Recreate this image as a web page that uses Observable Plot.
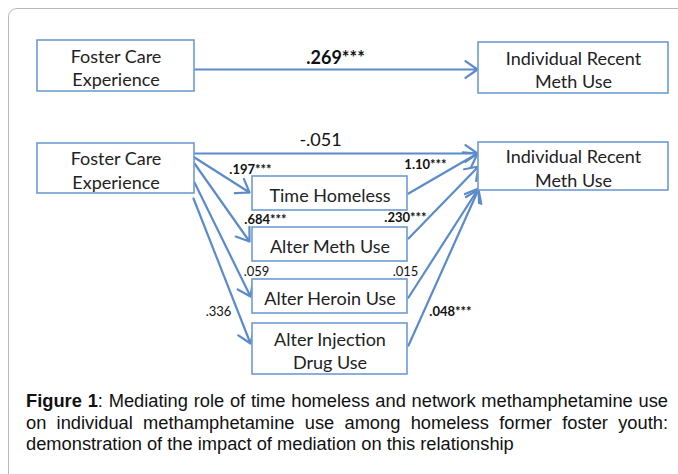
<!DOCTYPE html>
<html><head><meta charset="utf-8">
<script src="https://cdn.jsdelivr.net/npm/d3@7"></script>
<script src="https://cdn.jsdelivr.net/npm/@observablehq/plot@0.6"></script>
<style>
html,body{margin:0;padding:0;background:#fff;width:678px;height:474px;overflow:hidden;position:relative;}
#frame{position:absolute;left:8px;top:8px;width:740px;height:520px;border:1px solid #b9b9b9;border-radius:9px;box-sizing:border-box;}
#chart{position:absolute;left:0;top:0;}
#caption{position:absolute;left:26px;top:390px;width:642px;font-family:"Liberation Sans",Arial,sans-serif;font-size:18.3px;line-height:21.5px;text-align:justify;color:#111;}
</style></head><body>
<div id="frame"></div>
<div id="chart"></div>
<div id="caption"><b>Figure 1</b>: Mediating role of time homeless and network methamphetamine use on individual methamphetamine use among homeless former foster youth: demonstration of the impact of mediation on this relationship</div>
<script>
// ---- data ----
const predictor = "Foster Care\nExperience";
const outcome = "Individual Recent\nMeth Use";
const mediators = ["Time Homeless", "Alter Meth Use", "Alter Heroin Use", "Alter Injection\nDrug Use"];
const totalEffect = ".269***";
const directEffect = "-.051";
const aPaths = [".197***", ".684***", ".059", ".336"];
const bPaths = ["1.10***", ".230***", ".015", ".048***"];
const aBold = [true, true, false, false];
const bBold = [true, true, false, true];

// ---- layout (diagram coordinates) ----
const W = 678, H = 385;
const boxes = [
  {id: "predTop", label: predictor, x1: 37, x2: 194, y1: 40, y2: 91},
  {id: "outTop", label: outcome, x1: 478, x2: 668, y1: 42, y2: 93},
  {id: "pred", label: predictor, x1: 37, x2: 194, y1: 143, y2: 193},
  {id: "out", label: outcome, x1: 478, x2: 668, y1: 142, y2: 190},
  {id: "m0", label: mediators[0], x1: 252, x2: 407, y1: 176, y2: 210},
  {id: "m1", label: mediators[1], x1: 252, x2: 407, y1: 227, y2: 261},
  {id: "m2", label: mediators[2], x1: 252, x2: 407, y1: 279, y2: 313},
  {id: "m3", label: mediators[3], x1: 252, x2: 407, y1: 323, y2: 374}
];
const aGeom = [
  {x1: 194, y1: 157, x2: 249, y2: 192, lx: 250, ly: 169},
  {x1: 194, y1: 163, x2: 249, y2: 241, lx: 265, ly: 219},
  {x1: 194, y1: 182, x2: 250, y2: 296, lx: 256, ly: 271},
  {x1: 193, y1: 198, x2: 250, y2: 343, lx: 218, ly: 311}
];
const bGeom = [
  {x1: 408, y1: 193, x2: 477, y2: 153, lx: 425, ly: 164},
  {x1: 408, y1: 238, x2: 478, y2: 166, lx: 405, ly: 217},
  {x1: 408, y1: 297, x2: 478, y2: 188, lx: 405, ly: 271},
  {x1: 408, y1: 345, x2: 478, y2: 189, lx: 450, ly: 311}
];

const arrows = [
  {x1: 194, y1: 69, x2: 477, y2: 69},
  {x1: 194, y1: 153, x2: 477, y2: 153},
  ...aGeom, ...bGeom
];
const coefLabels = [
  {text: totalEffect, x: 335, y: 58, bold: true, size: 18},
  {text: directEffect, x: 320, y: 140, bold: false, size: 18},
  ...aPaths.map((t, i) => ({text: t, x: aGeom[i].lx, y: aGeom[i].ly, bold: aBold[i], size: 13})),
  ...bPaths.map((t, i) => ({text: t, x: bGeom[i].lx, y: bGeom[i].ly, bold: bBold[i], size: 13}))
];

const blue = "#5b8cc9";
const boxBlue = "#6f9bd3";
const font = "Lato, 'Open Sans', sans-serif";

const chart = Plot.plot({
  width: W, height: H,
  margin: 0,
  x: {domain: [0, W], range: [0, W], axis: null},
  y: {domain: [0, H], range: [0, H], axis: null},
  style: {fontFamily: font, background: "transparent"},
  marks: [
    Plot.arrow(arrows, {x1: "x1", y1: "y1", x2: "x2", y2: "y2", stroke: blue, strokeWidth: 2.2, headLength: 10, headAngle: 70, inset: 0}),
    Plot.rect(boxes, {x1: "x1", x2: "x2", y1: "y1", y2: "y2", fill: "white", stroke: boxBlue, strokeWidth: 1.6}),
    Plot.text(boxes, {x: d => (d.x1 + d.x2) / 2, y: d => (d.y1 + d.y2) / 2 + 1, text: "label", fontSize: 18, lineHeight: 1.3, fill: "#222", fontFamily: font}),
    Plot.text(coefLabels.filter(d => d.bold), {x: "x", y: "y", text: "text", fontSize: d => d.size, fontWeight: "bold", fill: "#111", fontFamily: font}),
    Plot.text(coefLabels.filter(d => !d.bold), {x: "x", y: "y", text: "text", fontSize: d => d.size, fill: "#111", fontFamily: font})
  ]
});
document.getElementById("chart").appendChild(chart);
</script>
</body></html>
